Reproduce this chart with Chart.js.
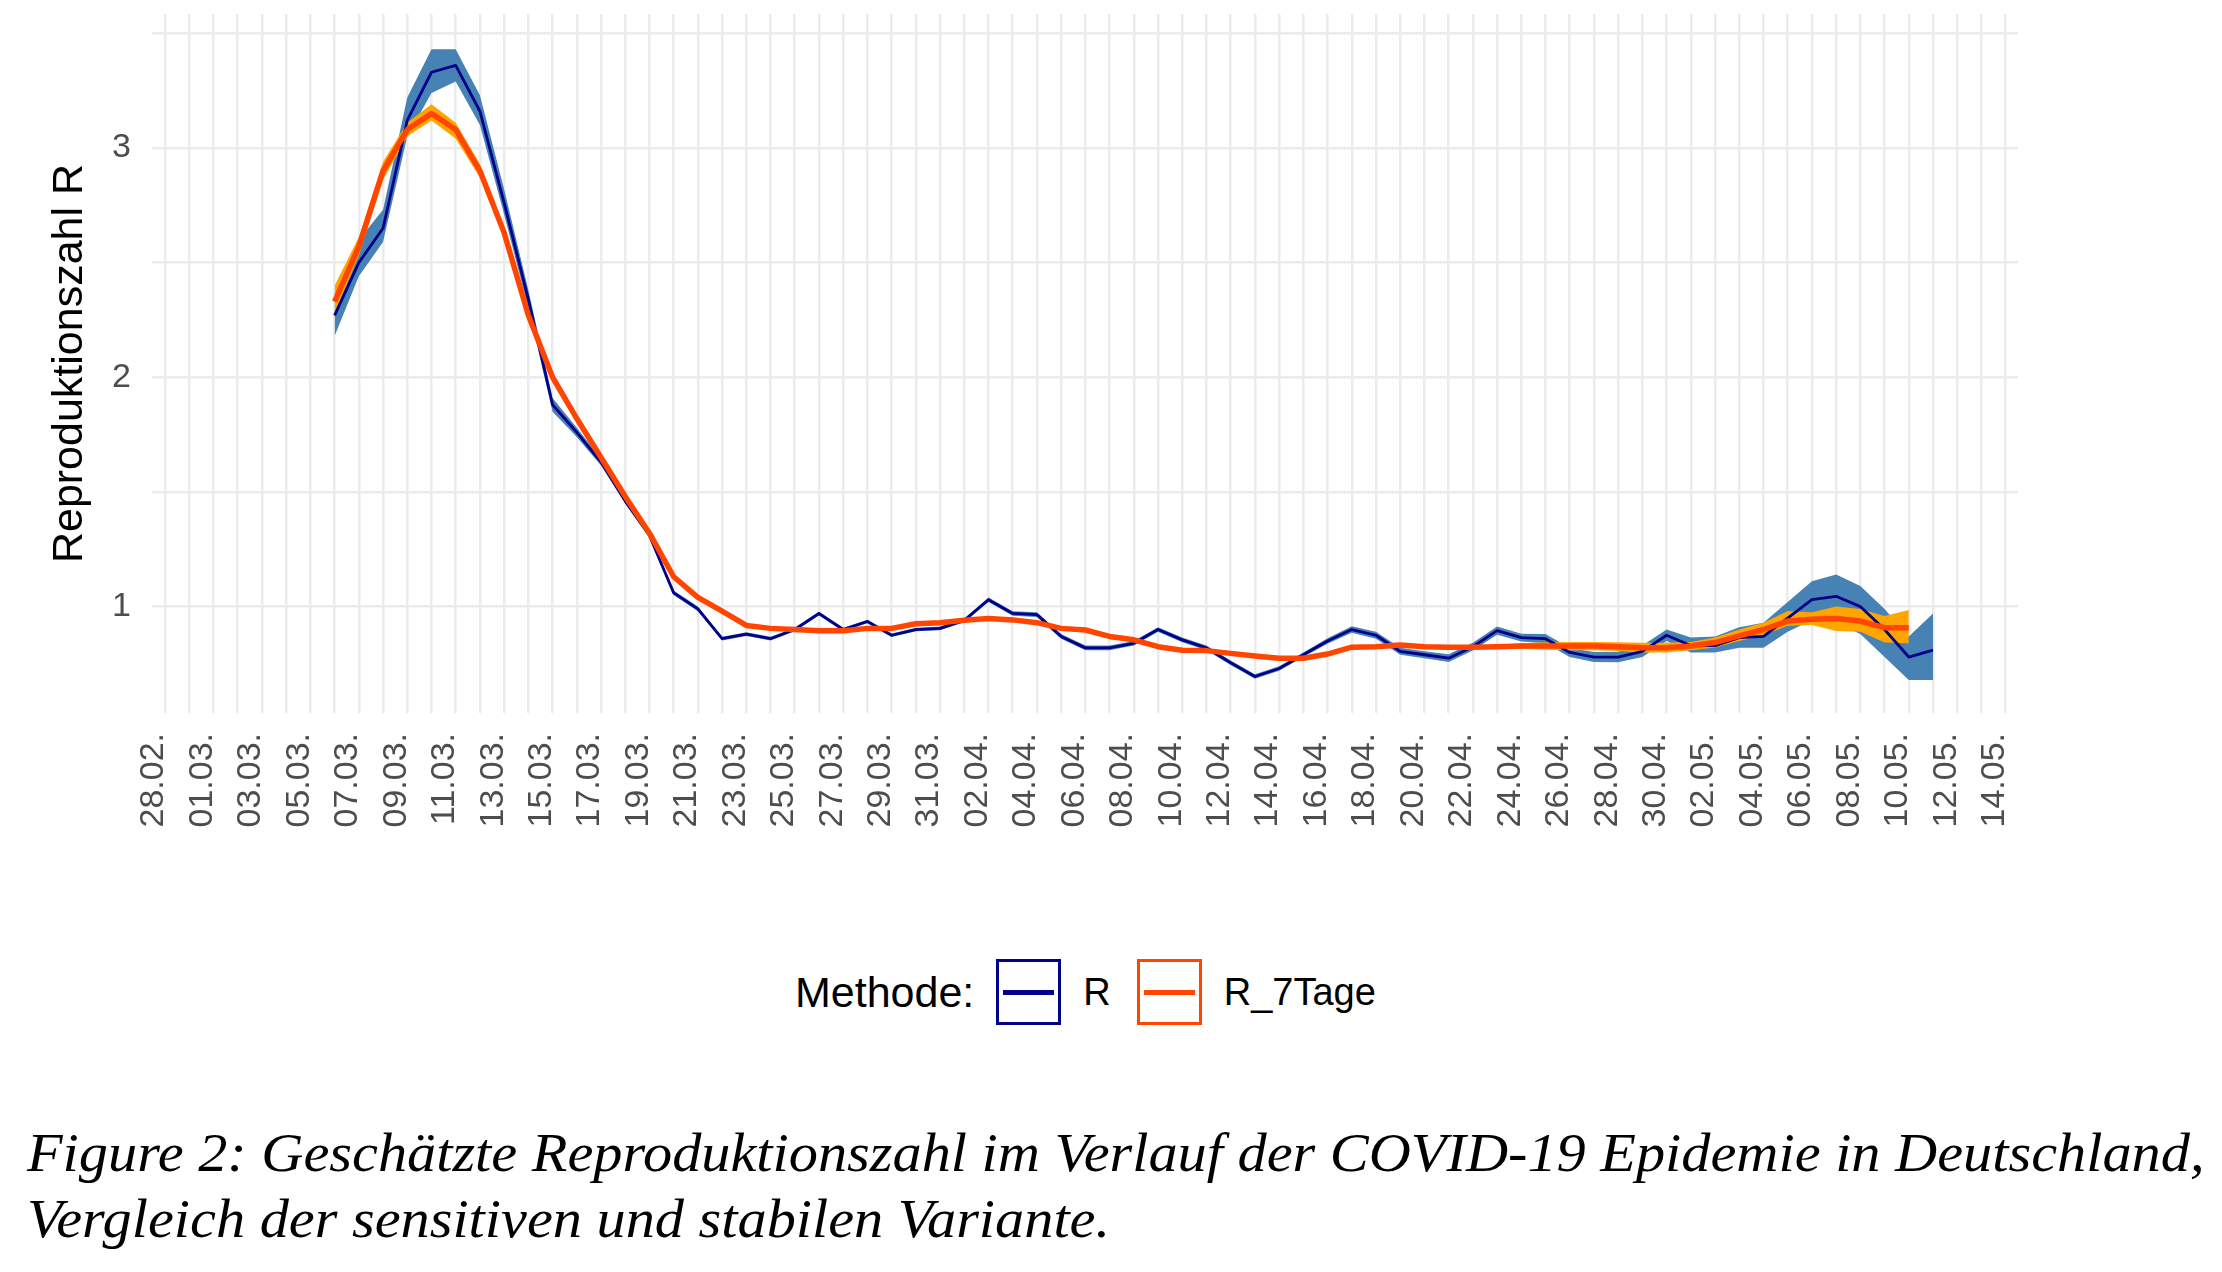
<!DOCTYPE html>
<html>
<head>
<meta charset="utf-8">
<script src="https://cdn.jsdelivr.net/npm/chart.js@4.4.1/dist/chart.umd.min.js"></script>
<style>
  html, body { margin: 0; padding: 0; background: #ffffff; }
  body { width: 2222px; height: 1272px; position: relative; overflow: hidden;
         font-family: "Liberation Sans", Arial, sans-serif; }
  #chartBox { position: absolute; left: 0; top: 0; width: 2222px; height: 870px; }
  #legend { position: absolute; left: 795px; top: 959px; height: 66px;
            display: flex; align-items: center; color: #000; }
  #legend .ttl { font-size: 43px; margin-right: 22px; }
  #legend .key { box-sizing: border-box; width: 65px; height: 66px; border: 3px solid;
                 display: flex; align-items: center; justify-content: center; background: #fff; }
  #legend .key i { display: block; height: 5px; width: 51px; }
  #legend .lbl { font-size: 38px; margin-left: 22px; margin-right: 26px; }
  #caption { position: absolute; left: 27px; top: 1120px; font-family: "Liberation Serif", "DejaVu Serif", serif;
             font-style: italic; font-size: 55px; line-height: 66px; color: #000;
             white-space: nowrap; transform-origin: 0 0; }
  #caption span { display: inline-block; }
</style>
</head>
<body>
<div id="chartBox"><canvas id="c" width="2222" height="870"></canvas></div>
<div id="legend"></div>
<div id="caption"></div>
<script>
// ---------------- data ----------------
const dateLabels = [
  '28.02.','29.02.',
  '01.03.','02.03.','03.03.','04.03.','05.03.','06.03.','07.03.','08.03.','09.03.','10.03.',
  '11.03.','12.03.','13.03.','14.03.','15.03.','16.03.','17.03.','18.03.','19.03.','20.03.',
  '21.03.','22.03.','23.03.','24.03.','25.03.','26.03.','27.03.','28.03.','29.03.','30.03.','31.03.',
  '01.04.','02.04.','03.04.','04.04.','05.04.','06.04.','07.04.','08.04.','09.04.','10.04.',
  '11.04.','12.04.','13.04.','14.04.','15.04.','16.04.','17.04.','18.04.','19.04.','20.04.',
  '21.04.','22.04.','23.04.','24.04.','25.04.','26.04.','27.04.','28.04.','29.04.','30.04.',
  '01.05.','02.05.','03.05.','04.05.','05.05.','06.05.','07.05.','08.05.','09.05.','10.05.',
  '11.05.','12.05.','13.05.','14.05.'
];

const seriesNames = ['R', 'R_7Tage'];
const legendTitle = 'Methode:';
const yTitle = 'Reproduktionszahl R';
const captionLines = [
  'Figure 2: Geschätzte Reproduktionszahl im Verlauf der COVID-19 Epidemie in Deutschland,',
  'Vergleich der sensitiven und stabilen Variante.'
];

// R: 06.03. .. 11.05.
const rFirstDate = '06.03.';
const rValues = [2.27,2.50,2.65,3.12,3.33,3.36,3.16,2.76,2.34,1.88,
  1.76,1.63,1.46,1.31,1.06,0.99,0.86,0.88,0.86,0.90,
  0.97,0.90,0.935,0.875,0.90,0.905,0.94,1.03,0.97,0.965,
  0.87,0.82,0.82,0.84,0.90,0.855,0.82,0.755,0.695,0.73,
  0.79,0.85,0.90,0.875,0.805,0.79,0.775,0.825,0.895,0.865,
  0.86,0.80,0.78,0.78,0.805,0.875,0.83,0.83,0.865,0.87,
  0.95,1.03,1.045,1.00,0.90,0.78,0.81];
const rLower = [2.18,2.44,2.59,3.05,3.24,3.29,3.10,2.71,2.30,1.85,
  1.74,1.615,1.45,1.30,1.05,0.98,0.852,0.872,0.852,0.892,
  0.962,0.892,0.927,0.867,0.892,0.897,0.932,1.02,0.96,0.955,
  0.86,0.81,0.81,0.83,0.89,0.845,0.81,0.745,0.685,0.72,
  0.78,0.838,0.886,0.86,0.79,0.775,0.758,0.808,0.877,0.848,
  0.84,0.78,0.758,0.757,0.78,0.85,0.80,0.80,0.82,0.82,
  0.89,0.94,0.93,0.88,0.78,0.68,0.68];
const rUpper = [2.37,2.60,2.73,3.22,3.43,3.43,3.23,2.82,2.38,1.91,
  1.78,1.645,1.47,1.32,1.07,1.00,0.868,0.888,0.868,0.908,
  0.978,0.908,0.943,0.883,0.908,0.913,0.948,1.04,0.98,0.975,
  0.88,0.83,0.83,0.85,0.91,0.865,0.83,0.765,0.705,0.74,
  0.80,0.862,0.914,0.89,0.82,0.805,0.792,0.842,0.913,0.882,
  0.88,0.82,0.802,0.803,0.83,0.90,0.865,0.87,0.91,0.93,
  1.02,1.11,1.14,1.09,0.99,0.87,0.97];

// R_7Tage: 06.03. .. 10.05.
const r7FirstDate = '06.03.';
const r7Values = [2.33,2.57,2.90,3.08,3.15,3.08,2.90,2.63,2.27,2.00,
  1.82,1.65,1.48,1.32,1.13,1.04,0.98,0.918,0.905,0.90,
  0.895,0.895,0.905,0.905,0.925,0.93,0.94,0.948,0.942,0.93,
  0.905,0.898,0.87,0.855,0.825,0.81,0.808,0.796,0.785,0.775,
  0.775,0.793,0.823,0.825,0.833,0.825,0.823,0.823,0.825,0.828,
  0.828,0.828,0.828,0.825,0.821,0.821,0.828,0.843,0.872,0.90,
  0.937,0.945,0.948,0.937,0.908,0.908];
const r7Lower = [2.28,2.53,2.86,3.05,3.12,3.04,2.87,2.61,2.26,1.99,
  1.81,1.643,1.474,1.315,1.125,1.035,0.975,0.913,0.90,0.895,
  0.89,0.89,0.90,0.90,0.92,0.925,0.935,0.943,0.937,0.925,
  0.90,0.893,0.865,0.85,0.82,0.805,0.803,0.791,0.78,0.77,
  0.77,0.788,0.818,0.82,0.828,0.82,0.817,0.816,0.816,0.816,
  0.812,0.81,0.81,0.806,0.80,0.80,0.81,0.822,0.85,0.875,
  0.916,0.92,0.894,0.89,0.843,0.84];
const r7Upper = [2.40,2.61,2.94,3.11,3.19,3.11,2.93,2.65,2.28,2.01,
  1.83,1.657,1.486,1.325,1.135,1.045,0.985,0.923,0.91,0.905,
  0.90,0.90,0.91,0.91,0.93,0.935,0.945,0.953,0.947,0.935,
  0.91,0.903,0.875,0.86,0.83,0.815,0.813,0.801,0.79,0.78,
  0.78,0.798,0.828,0.83,0.838,0.83,0.829,0.83,0.834,0.84,
  0.844,0.846,0.846,0.844,0.842,0.842,0.846,0.865,0.90,0.93,
  0.981,0.975,1.00,0.99,0.959,0.985];

// ---------------- styles ----------------
const lineColors = ['#00008B', '#FF4500'];
const ribbonColors = ['#4682B4', '#FFA500'];
const gridColor = '#EBEBEB';
const tickColor = '#4D4D4D';

// ---------------- build ----------------
Chart.defaults.font.family = "'Liberation Sans', Arial, sans-serif";

function toPoints(firstDate, values) {
  const start = dateLabels.indexOf(firstDate);
  return values.map((v, i) => ({ x: start + i, y: v }));
}

const none = 'rgba(0,0,0,0)';
const datasets = [
  { label: seriesNames[1], data: toPoints(r7FirstDate, r7Values), borderColor: lineColors[1],
    borderWidth: 5.5, fill: false, order: 0, borderJoinStyle: 'round', borderCapStyle: 'butt' },
  { label: seriesNames[0], data: toPoints(rFirstDate, rValues), borderColor: lineColors[0],
    borderWidth: 2.8, fill: false, order: 1, borderJoinStyle: 'round', borderCapStyle: 'butt' },
  { label: 'r7Upper', data: toPoints(r7FirstDate, r7Upper), borderColor: none, borderWidth: 0,
    backgroundColor: ribbonColors[1], fill: { target: 3 }, order: 2 },
  { label: 'r7Lower', data: toPoints(r7FirstDate, r7Lower), borderColor: none, borderWidth: 0,
    backgroundColor: none, fill: false, order: 2 },
  { label: 'rUpper', data: toPoints(rFirstDate, rUpper), borderColor: none, borderWidth: 0,
    backgroundColor: ribbonColors[0], fill: { target: 5 }, order: 3 },
  { label: 'rLower', data: toPoints(rFirstDate, rLower), borderColor: none, borderWidth: 0,
    backgroundColor: none, fill: false, order: 3 }
];

function zeroPad(s) { s.paddingTop = 0; s.paddingBottom = 0; s.paddingLeft = 0; s.paddingRight = 0; }

new Chart(document.getElementById('c'), {
  type: 'line',
  data: { datasets },
  options: {
    responsive: false,
    animation: false,
    devicePixelRatio: 1,
    layout: { padding: { top: 14, right: 204, left: 0, bottom: 0 } },
    elements: { point: { radius: 0, hoverRadius: 0 }, line: { tension: 0 } },
    plugins: { legend: { display: false }, tooltip: { enabled: false } },
    scales: {
      x: {
        type: 'linear', min: -0.54, max: 76.51,
        grid: { color: gridColor, lineWidth: 2.5, drawTicks: false },
        border: { display: false },
        ticks: {
          stepSize: 1, includeBounds: false, autoSkip: false, minRotation: 90, maxRotation: 90,
          padding: 20, labelOffset: -11, color: tickColor,
          font: { size: 34 },
          callback: (v) => (Number.isInteger(v) && v % 2 === 0 ? dateLabels[v] : '')
        },
        afterFit: (s) => { s.height = 157; zeroPad(s); }
      },
      y: {
        type: 'linear', min: 0.536, max: 3.584,
        grid: { color: gridColor, lineWidth: 2.5, drawTicks: false },
        border: { display: false },
        ticks: {
          stepSize: 0.5, includeBounds: false, padding: 21, color: tickColor,
          font: { size: 34 },
          callback: (v) => (Math.abs(v - Math.round(v)) < 1e-9 ? String(Math.round(v)) : '')
        },
        title: { display: true, text: yTitle, color: '#000000',
                 font: { size: 43, lineHeight: 1 }, padding: { top: 49, bottom: 0 } },
        afterFit: (s) => { s.width = 152; zeroPad(s); }
      }
    }
  }
});

// legend (HTML, real text)
const legend = document.getElementById('legend');
const ttl = document.createElement('span');
ttl.className = 'ttl'; ttl.textContent = legendTitle; legend.appendChild(ttl);
seriesNames.forEach((name, i) => {
  const key = document.createElement('span');
  key.className = 'key'; key.style.borderColor = lineColors[i];
  const bar = document.createElement('i'); bar.style.background = lineColors[i];
  key.appendChild(bar); legend.appendChild(key);
  const lbl = document.createElement('span');
  lbl.className = 'lbl'; lbl.textContent = name; legend.appendChild(lbl);
});

// caption
const cap = document.getElementById('caption');
captionLines.forEach((t) => {
  const d = document.createElement('div');
  const s = document.createElement('span'); s.textContent = t;
  d.appendChild(s); cap.appendChild(d);
});
function fitCaption() {
  const w = cap.querySelector('span').offsetWidth; // untransformed layout width
  cap.style.transform = 'scaleX(' + (2178 / w) + ')';
}
fitCaption();
if (document.fonts && document.fonts.ready) document.fonts.ready.then(fitCaption);
</script>
</body>
</html>
